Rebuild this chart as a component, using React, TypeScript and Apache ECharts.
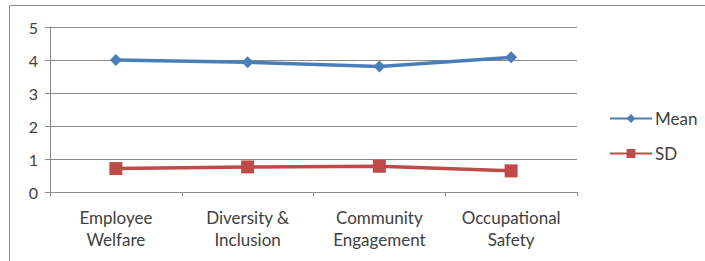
import React, { useEffect, useRef } from "react";
import * as echarts from "echarts";

const categories = [
  "Employee\nWelfare",
  "Diversity &\nInclusion",
  "Community\nEngagement",
  "Occupational\nSafety",
];
const meanValues = [4.0, 3.93, 3.8, 4.08];
const sdValues = [0.71, 0.76, 0.78, 0.64];
const seriesNames = ["Mean", "SD"];

const FONT = "Lato, 'Open Sans', sans-serif";
const TEXT = "#404040";
const GRID = "#8a8a8a";

export default function App() {
  const ref = useRef<HTMLDivElement>(null);
  useEffect(() => {
    if (!ref.current) return;
    const chart = echarts.init(ref.current, undefined, { renderer: "svg" });
    chart.setOption({
      animation: false,
      backgroundColor: "#ffffff",
      textStyle: { fontFamily: FONT, color: TEXT },
      graphic: [
        {
          type: "rect",
          shape: { x: 9.5, y: 5.5, width: 720, height: 280 },
          style: { fill: "none", stroke: "#8c8c8c", lineWidth: 1 },
          silent: true,
        },
      ],
      grid: { left: 50, right: 128, top: 27, bottom: 69, containLabel: false },
      legend: {
        orient: "vertical",
        left: 604,
        top: 105,
        itemWidth: 42,
        itemHeight: 11,
        itemGap: 18,
        textStyle: { fontFamily: FONT, fontSize: 17, color: TEXT, padding: [0, 0, 0, -2] },
        data: seriesNames,
      },
      xAxis: {
        type: "category",
        data: categories,
        boundaryGap: true,
        axisLine: { lineStyle: { color: GRID, width: 1 } },
        axisTick: { show: true, alignWithLabel: false, length: 4, lineStyle: { color: GRID } },
        axisLabel: {
          fontFamily: FONT,
          fontSize: 17,
          color: TEXT,
          lineHeight: 22,
          margin: 14,
          interval: 0,
        },
      },
      yAxis: {
        type: "value",
        min: 0,
        max: 5,
        interval: 1,
        axisLine: { show: true, lineStyle: { color: GRID, width: 1 } },
        axisTick: { show: true, length: 5, lineStyle: { color: GRID } },
        splitLine: { lineStyle: { color: GRID, width: 1 } },
        axisLabel: { fontFamily: FONT, fontSize: 16, color: TEXT, margin: 12 },
      },
      series: [
        {
          name: seriesNames[0],
          type: "line",
          data: meanValues,
          symbol: "diamond",
          symbolSize: 12,
          lineStyle: { color: "#4a7ebb", width: 3.5 },
          itemStyle: { color: "#4a7ebb" },
        },
        {
          name: seriesNames[1],
          type: "line",
          data: sdValues,
          symbol: "rect",
          symbolSize: 13,
          lineStyle: { color: "#be4b48", width: 3.5 },
          itemStyle: { color: "#be4b48" },
        },
      ],
    });
    return () => chart.dispose();
  }, []);
  return (
    <div
      ref={ref}
      style={{ position: "fixed", left: 0, top: 0, width: 705, height: 261 }}
    />
  );
}
